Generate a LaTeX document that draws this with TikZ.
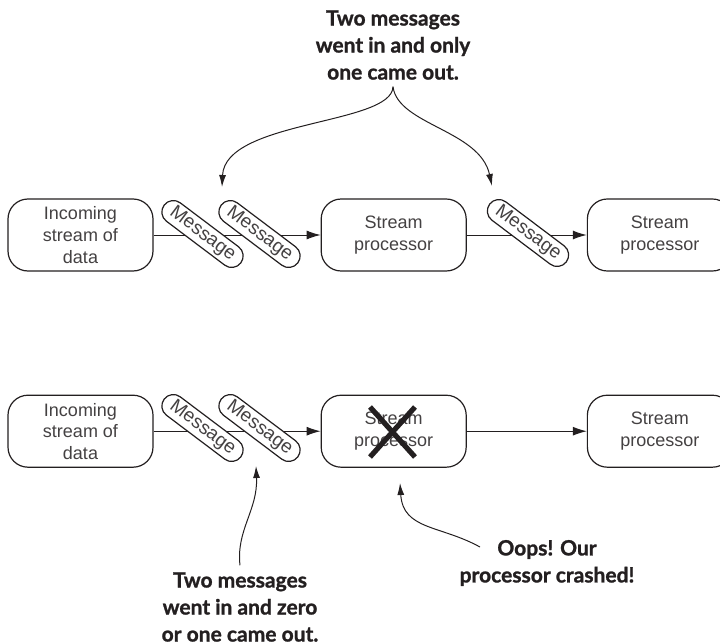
\documentclass[tikz,border=0pt]{standalone}
\usepackage{fontspec}
\setmainfont{Liberation Sans}
\newfontfamily\notefont{Lato}[BoldFeatures={FakeBold=1.2}]
\definecolor{inkgray}{RGB}{35, 31, 32}
\usepackage{tikz}
\usetikzlibrary{arrows.meta, positioning}

\begin{document}
\begin{tikzpicture}[
  x=0.5pt, y=-0.5pt,
  node distance=61.5pt and 83.5pt,
  stage/.style={rectangle, rounded corners=10pt, draw=inkgray, line width=0.6pt,
                minimum width=72.5pt, minimum height=36pt, align=center,
                font=\fontsize{9}{10.8}\selectfont, text=inkgray!85},
  msg/.style={rectangle, rounded corners=5.75pt, draw=inkgray, fill=white, line width=0.6pt,
              minimum width=48pt, minimum height=11.5pt, inner sep=0pt, rotate=-37,
              font=\fontsize{9.5}{10}\selectfont, text=inkgray!85},
  note/.style={align=center, font=\notefont\bfseries\fontsize{10.5}{13.5}\selectfont, text=inkgray},
  flow/.style={-{Latex[length=7pt, width=4.5pt]}, line width=0.5pt, inkgray},
  hint/.style={-{Latex[length=6pt, width=3.5pt]}, line width=0.5pt, inkgray},
  cross/.style={line width=2.6pt, inkgray}
]
  \useasboundingbox (0,0) rectangle (720,643);

  \node[stage] (inTop) at (80.5,235) {Incoming\\stream of\\data};
  \node[stage, right=of inTop] (procTop) {Stream\\processor};
  \node[stage, right=60pt of procTop] (sinkTop) {Stream\\processor};
  \node[stage, below=of inTop] (inBot) {Incoming\\stream of\\data};
  \node[stage, below=of procTop] (procBot) {Stream\\processor};
  \node[stage, below=of sinkTop] (sinkBot) {Stream\\processor};

  \draw[flow] (inTop) -- (procTop);
  \draw[flow] (procTop) -- (sinkTop);
  \draw[flow] (inBot) -- (procBot);
  \draw[flow] (procBot) -- (sinkBot);

  \node[msg] (msgTopA) at (202.5,234) {Message};
  \node[msg] (msgTopB) at (259.5,234) {Message};
  \node[msg] (msgTopC) at (528,233) {Message};
  \node[msg] (msgBotA) at (202.5,428) {Message};
  \node[msg] (msgBotB) at (259.5,428) {Message};

  \draw[cross] (370,407) -- (415,457);
  \draw[cross] (415,407) -- (370,457);

  \node[note] (topNote) at (393,45) {Two messages\\went in and only\\one came out.};
  \coordinate (hitLeft) at (222,187);
  \coordinate (hitRight) at (492,186);
  \draw[hint] (topNote.south) .. controls (392,125) and (225,120) .. (hitLeft);
  \draw[hint] (topNote.south) .. controls (398,125) and (480,130) .. (hitRight);

  \node[note] (zeroNote) at (240,607) {Two messages\\went in and zero\\or one came out.};
  \coordinate (hitPills) at (256,466);
  \draw[hint] (zeroNote.north) .. controls (236,530) and (258,510) .. (hitPills);

  \node[note] (oopsNote) at (547,563) {Oops! Our\\processor crashed!};
  \coordinate (oopsTail) at (480,547);
  \coordinate (hitProc) at (400,483);
  \draw[hint] (oopsTail) .. controls (440,525) and (403,530) .. (hitProc);
\end{tikzpicture}
\end{document}
